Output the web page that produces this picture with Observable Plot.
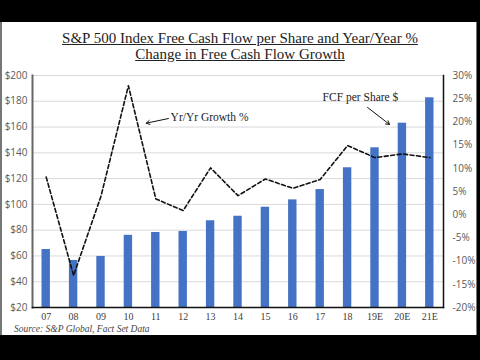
<!DOCTYPE html>
<html><head><meta charset="utf-8">
<script src="https://cdn.jsdelivr.net/npm/d3@7"></script>
<script src="https://cdn.jsdelivr.net/npm/@observablehq/plot@0.6"></script>
<style>
html,body{margin:0;padding:0;background:#000;width:480px;height:360px;overflow:hidden;position:relative;}
#panel{position:absolute;left:0;top:22px;width:477px;height:313px;background:#fff;border-left:2px solid #777;border-right:1px solid #777;box-sizing:border-box;}
#title{position:absolute;left:0;top:31px;width:480px;text-align:center;font-family:"Liberation Serif",serif;font-size:15px;line-height:15.5px;color:#222;}
#title span{text-decoration:underline;}
#chart{position:absolute;left:0;top:60px;}
#src{position:absolute;left:14px;top:324px;font-family:"Liberation Serif",serif;font-style:italic;font-size:9.5px;color:#444;}
</style></head>
<body>
<div id="panel"></div>
<div id="title"><span>S&amp;P 500 Index Free Cash Flow per Share and Year/Year %</span><br><span>Change in Free Cash Flow Growth</span></div>
<div id="chart"></div>
<div id="src">Source: S&amp;P Global, Fact Set Data</div>
<script>
const cats = ["07","08","09","10","11","12","13","14","15","16","17","18","19E","20E","21E"];
const fcf = [65,56.5,59.6,76,78.2,79,87.3,90.8,97.8,103.5,111.5,128.4,143.9,163,182.7];
const growth = [8.1,-13.1,4,27.8,3.4,0.9,10.1,4.1,7.7,5.7,7.6,14.9,12.3,13.1,12.3];
const leftTicks = [20,40,60,80,100,120,140,160,180,200];
const pctTicks = [-20,-15,-10,-5,0,5,10,15,20,25,30];
const labelsText = ["Yr/Yr Growth %","FCF per Share $"];
const labelX = [4.54, 11.47];
const labelY = [167.4, 183.2];
const arrowFrom = [[4.46,166.6],[11.73,175.2]];
const arrowTo = [[3.65,163],[12.53,162]];

// map percent (right axis) onto dollar (left axis) scale
const toD = p => 20 + (p + 20) * 3.6;
const fromD = d => Math.round((d - 20) / 3.6 - 20);

const data = cats.map((c, i) => ({i, c, fcf: fcf[i], g: toD(growth[i])}));
const arrows = arrowFrom.map((f, k) => ({x1: f[0], y1: f[1], x2: arrowTo[k][0], y2: arrowTo[k][1]}));

const chart = Plot.plot({
  width: 480, height: 270,
  marginLeft: 32, marginRight: 37, marginTop: 15, marginBottom: 23,
  style: {background: "transparent", fontFamily: "'Open Sans', sans-serif"},
  x: {domain: [-0.5, 14.5], axis: null},
  y: {domain: [20, 200], axis: null},
  marks: [
    Plot.gridY(leftTicks.slice(1), {stroke: "#d9d9d9", strokeOpacity: 1}),
    Plot.rectY(data, {x1: d => d.i - 0.5, x2: d => d.i + 0.5, y1: 20, y2: "fcf", insetLeft: 9.5, insetRight: 9.5, fill: "#4472C4"}),
    Plot.line(data, {x: "i", y: "g", stroke: "#111", strokeWidth: 1.6, strokeDasharray: "4,2.5"}),
    Plot.axisY(leftTicks, {anchor: "left", tickSize: 0, tickPadding: 5, tickFormat: d => "$" + d, fontSize: 10, color: "#595959", label: null}),
    Plot.axisY(pctTicks.map(toD), {anchor: "right", tickSize: 0, tickPadding: 9, tickFormat: d => fromD(d) + "%", fontSize: 10, color: "#595959", label: null}),
    Plot.axisX(d3.range(cats.length), {anchor: "bottom", tickSize: 0, tickPadding: 5, tickFormat: i => cats[i], fontSize: 10, fontFamily: "'Liberation Serif', serif", color: "#404040", label: null}),
    Plot.frame({anchor: "left", stroke: "#666", strokeWidth: 2}),
    Plot.frame({anchor: "right", stroke: "#111", strokeWidth: 1.5}),
    Plot.frame({anchor: "bottom", stroke: "#111", strokeWidth: 1.5}),
    Plot.text([0], {x: () => labelX[0], y: () => labelY[0], text: () => labelsText[0], textAnchor: "start", fontSize: 11.5, fontFamily: "'Liberation Serif', serif", fill: "#222"}),
    Plot.text([1], {x: () => labelX[1], y: () => labelY[1], text: () => labelsText[1], textAnchor: "middle", fontSize: 11.5, fontFamily: "'Liberation Serif', serif", fill: "#222"}),
    Plot.arrow(arrows, {x1: "x1", y1: "y1", x2: "x2", y2: "y2", stroke: "#111", strokeWidth: 1, headLength: 6})
  ]
});
document.getElementById("chart").appendChild(chart);
</script>
</body></html>
